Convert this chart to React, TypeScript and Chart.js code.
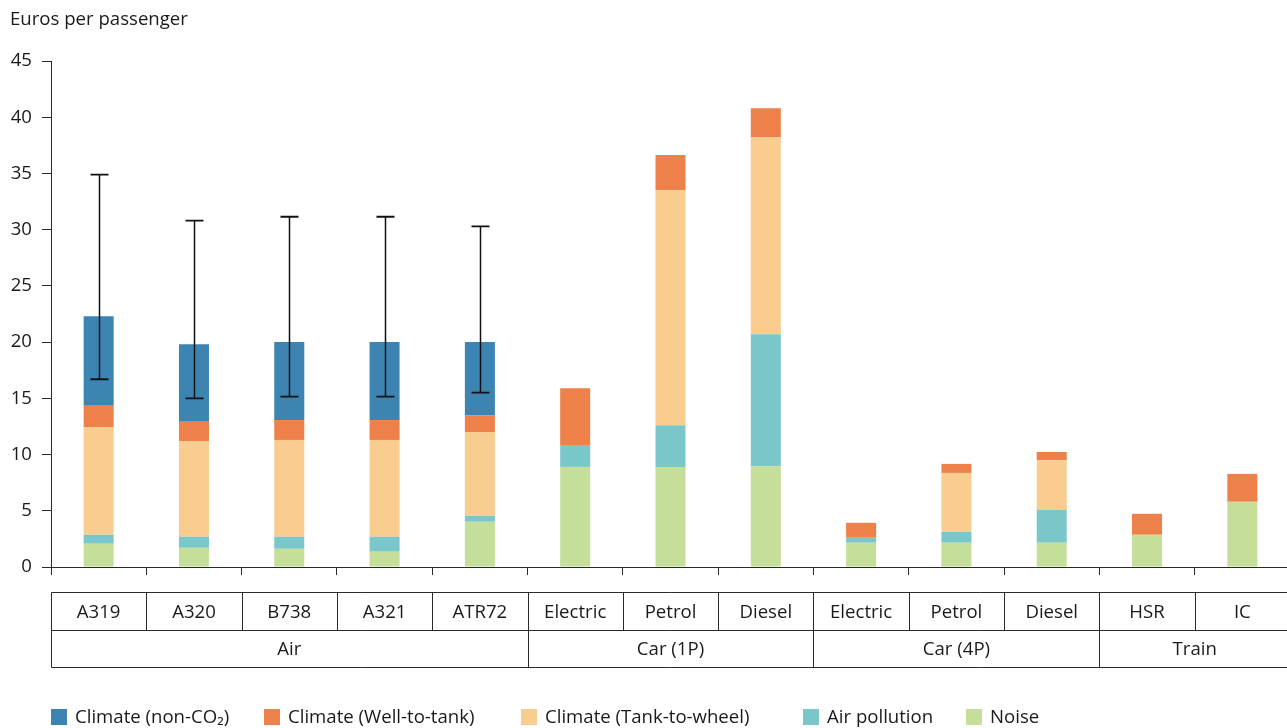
import React, { useEffect, useRef } from "react";
import { Chart, registerables } from "chart.js";

Chart.register(...registerables);

// ---------- data ----------
const categories = ["A319", "A320", "B738", "A321", "ATR72", "Electric", "Petrol", "Diesel", "Electric", "Petrol", "Diesel", "HSR", "IC"];
const groupNames = ["Air", "Car (1P)", "Car (4P)", "Train"];
const groupSizes = [5, 3, 3, 2];

const noise = [2.07, 1.71, 1.62, 1.36, 4.02, 8.9, 8.9, 8.97, 2.16, 2.16, 2.16, 2.87, 5.8];
const airPollution = [0.8, 0.98, 1.07, 1.33, 0.53, 1.95, 3.7, 11.73, 0.44, 0.97, 2.92, null, null];
const climateTankToWheel = [9.58, 8.51, 8.61, 8.61, 7.45, null, 20.9, 17.5, null, 5.24, 4.42, null, null];
const climateWellToTank = [1.89, 1.72, 1.77, 1.77, 1.5, 5.05, 3.15, 2.6, 1.33, 0.8, 0.73, 1.86, 2.48];
const climateNonCO2 = [7.96, 6.88, 6.93, 6.93, 6.5, null, null, null, null, null, null, null, null];

const errorLow = [16.7, 15.0, 15.15, 15.15, 15.5, null, null, null, null, null, null, null, null];
const errorHigh = [34.9, 30.8, 31.15, 31.15, 30.3, null, null, null, null, null, null, null, null];

const yTickValues = [0, 5, 10, 15, 20, 25, 30, 35, 40, 45];
const yAxisTitle = "Euros per passenger";

const seriesNames = ["Noise", "Air pollution", "Climate (Tank-to-wheel)", "Climate (Well-to-tank)", "Climate (non-CO\u2082)"];
const seriesColors = ["#c5df9b", "#7ac7ca", "#f8cd8f", "#ed8149", "#3c84b2"];

// ---------- style ----------
const FONT = "'Open Sans', 'DejaVu Sans', sans-serif";
const FS = 18.6;
const TEXT = "#1a1a1a";
const LINE = "#2a2a2a";
const legendX = [51, 264, 521, 803, 966];
const CANVAS_W = 1290;
const CANVAS_H = 728;

const overlayPlugin = {
  id: "overlay",
  afterDraw(chart: any) {
    const ctx = chart.ctx as CanvasRenderingContext2D;
    const xs = chart.scales.x;
    const ys = chart.scales.y;
    const area = chart.chartArea;

    // error bars
    ctx.save();
    ctx.strokeStyle = "#111";
    for (let i = 0; i < categories.length; i++) {
      const lo = errorLow[i];
      const hi = errorHigh[i];
      if (lo == null || hi == null) continue;
      const x = Math.round(xs.getPixelForValue(i)) + 0.5;
      const yl = ys.getPixelForValue(lo);
      const yh = ys.getPixelForValue(hi);
      ctx.lineWidth = 1.5;
      ctx.beginPath();
      ctx.moveTo(x, yl);
      ctx.lineTo(x, yh);
      ctx.stroke();
      ctx.lineWidth = 1.8;
      ctx.beginPath();
      ctx.moveTo(x - 9, yl);
      ctx.lineTo(x + 9, yl);
      ctx.moveTo(x - 9, yh);
      ctx.lineTo(x + 9, yh);
      ctx.stroke();
    }
    ctx.restore();

    // category table
    const top = Math.round(area.bottom + 25) + 0.5;
    const mid = Math.round(area.bottom + 63) + 0.5;
    const bot = Math.round(area.bottom + 100) + 0.5;
    const left = Math.round(xs.left) + 0.5;
    const right = chart.width;
    const boundary = (i: number) => {
      if (i <= 0) return xs.left;
      if (i >= categories.length) return xs.right;
      return (xs.getPixelForValue(i - 1) + xs.getPixelForValue(i)) / 2;
    };
    ctx.save();
    ctx.strokeStyle = LINE;
    ctx.lineWidth = 1;
    ctx.beginPath();
    [top, mid, bot].forEach((y) => {
      ctx.moveTo(left, y);
      ctx.lineTo(right, y);
    });
    ctx.moveTo(left, top);
    ctx.lineTo(left, bot);
    const groupEnds: number[] = [];
    let acc = 0;
    groupSizes.forEach((s) => {
      acc += s;
      groupEnds.push(acc);
    });
    for (let i = 1; i < categories.length; i++) {
      const x = Math.round(boundary(i)) + 0.5;
      ctx.moveTo(x, top);
      ctx.lineTo(x, groupEnds.includes(i) ? bot : mid);
    }
    ctx.stroke();

    ctx.fillStyle = TEXT;
    ctx.font = `${FS}px ${FONT}`;
    ctx.textAlign = "center";
    ctx.textBaseline = "middle";
    categories.forEach((c, i) => {
      ctx.fillText(c, xs.getPixelForValue(i), (top + mid) / 2 + 1);
    });
    let start = 0;
    groupNames.forEach((g, gi) => {
      const end = start + groupSizes[gi];
      const cx = (boundary(start) + boundary(end)) / 2;
      ctx.fillText(g, cx, (mid + bot) / 2 + 1);
      start = end;
    });

    // legend (reverse stacking order)
    ctx.textAlign = "left";
    const legendY = 717;
    const order = [4, 3, 2, 1, 0];
    order.forEach((di, k) => {
      const x = legendX[k];
      ctx.fillStyle = seriesColors[di];
      ctx.fillRect(x, legendY - 8, 16, 16);
      ctx.fillStyle = TEXT;
      ctx.fillText(seriesNames[di], x + 24, legendY + 1);
    });
    ctx.restore();
  },
};

export default function App() {
  const ref = useRef<HTMLCanvasElement | null>(null);

  useEffect(() => {
    if (!ref.current) return;
    const seriesData = [noise, airPollution, climateTankToWheel, climateWellToTank, climateNonCO2];
    const chart = new Chart(ref.current, {
      type: "bar",
      data: {
        labels: categories,
        datasets: seriesData.map((d, i) => ({
          label: seriesNames[i],
          data: d as any,
          backgroundColor: seriesColors[i],
          borderWidth: 0,
          barPercentage: 0.315,
          categoryPercentage: 1,
        })),
      },
      options: {
        animation: false,
        responsive: false,
        maintainAspectRatio: false,
        devicePixelRatio: 1,
        layout: { padding: { left: 10, top: 0, right: 0, bottom: 0 } },
        plugins: {
          legend: { display: false },
          tooltip: { enabled: false },
          title: {
            display: true,
            text: yAxisTitle,
            align: "start",
            color: TEXT,
            font: { family: FONT, size: FS, weight: "normal" as any, lineHeight: 1.2 },
            padding: { top: 9, bottom: 29.7 },
          },
        },
        scales: {
          x: {
            type: "category",
            stacked: true,
            offset: true,
            afterFit: (s: any) => {
              s.height = 161;
            },
            grid: {
              offset: true,
              drawOnChartArea: false,
              drawTicks: true,
              tickLength: 8,
              color: LINE,
              lineWidth: 1,
            },
            border: { display: true, color: LINE, width: 1 },
            ticks: { display: false },
          },
          y: {
            stacked: true,
            min: 0,
            max: 45,
            afterFit: (s: any) => {
              s.width = 41;
            },
            afterBuildTicks: (s: any) => {
              s.ticks = yTickValues.map((v) => ({ value: v }));
            },
            grid: {
              drawOnChartArea: false,
              drawTicks: true,
              tickLength: 9,
              color: LINE,
              lineWidth: 1,
            },
            border: { display: true, color: LINE, width: 1 },
            ticks: {
              padding: 10,
              color: TEXT,
              font: { family: FONT, size: FS },
            },
          },
        },
      },
      plugins: [overlayPlugin],
    });
    return () => chart.destroy();
  }, []);

  return (
    <div
      style={{
        position: "absolute",
        left: 0,
        top: 0,
        width: 1287,
        height: 728,
        overflow: "hidden",
      }}
    >
      <canvas ref={ref} width={CANVAS_W} height={CANVAS_H} style={{ display: "block" }} />
    </div>
  );
}
